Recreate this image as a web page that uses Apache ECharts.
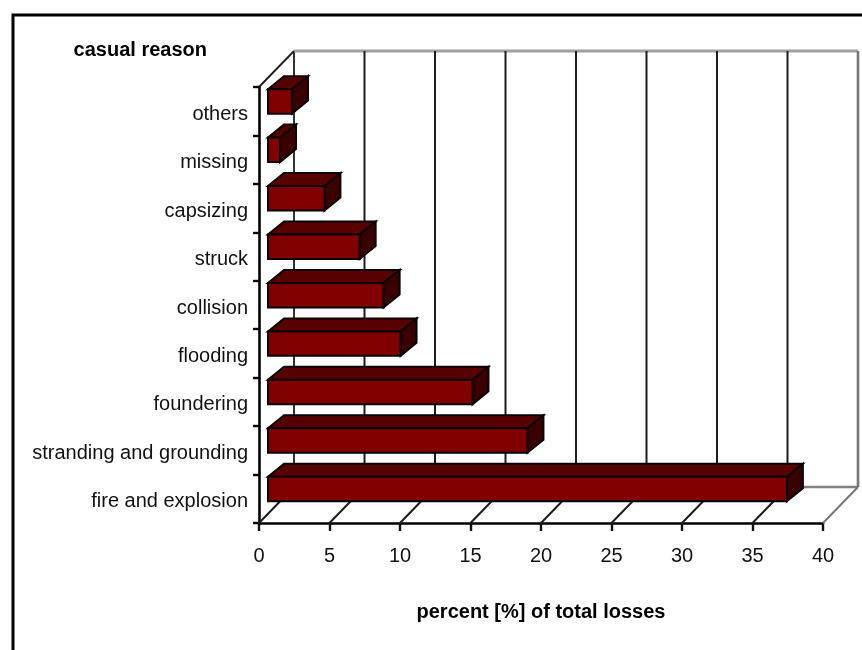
<!DOCTYPE html>
<html>
<head>
<meta charset="utf-8">
<style>
html,body{margin:0;padding:0;background:#fff;}
#chart{width:862px;height:650px;filter:blur(0.7px);}
</style>
<script src="https://cdn.jsdelivr.net/npm/echarts@6/dist/echarts.min.js"></script>
</head>
<body>
<div id="chart"></div>
<script>
var categories = ['others','missing','capsizing','struck','collision','flooding','foundering','stranding and grounding','fire and explosion'];
var percentValues = [1.7,0.85,4.0,6.5,8.2,9.4,14.5,18.4,36.8];
var axisTicks = [0,5,10,15,20,25,30,35,40];
var yAxisTitle = 'casual reason';
var xAxisTitle = 'percent [%] of total losses';

var WALL_DX = 35, WALL_DY = 36;      // depth of the 3D box, px
var BAR_INSET = 9, BAR_DX = 16, BAR_DY = 13;  // position and depth of bars, px
var TEXT_FONT = '"Liberation Sans Narrow","Liberation Sans",Arial,sans-serif';

var chart = echarts.init(document.getElementById('chart'));

function line(x1,y1,x2,y2,color,w){
  return {type:'line',shape:{x1:x1,y1:y1,x2:x2,y2:y2},style:{stroke:color,lineWidth:w,fill:null}};
}
function poly(points,fill){
  return {type:'polygon',shape:{points:points},style:{fill:fill,stroke:'#0a0000',lineWidth:2}};
}

function renderWall(params, api){
  var cs = params.coordSys, v = api.value(0), x = api.coord([v,0])[0];
  var top = cs.y, bottom = cs.y + cs.height;
  var isLast = v === axisTicks[axisTicks.length-1];
  var wallColor = (v === 0) ? '#333' : (isLast ? '#777' : '#1c1c1c');
  var floorColor = isLast ? '#777' : '#1c1c1c';
  var kids = [
    line(x+WALL_DX,top-WALL_DY,x+WALL_DX,bottom-WALL_DY,wallColor,isLast?2.6:2),
    line(x,bottom,x+WALL_DX,bottom-WALL_DY,floorColor,2)
  ];
  if(v === 0){
    var right = cs.x + cs.width;
    kids.push(line(x+WALL_DX,top-WALL_DY,right+WALL_DX,top-WALL_DY,'#a0a0a0',3));
    kids.push(line(x+WALL_DX,bottom-WALL_DY,right+WALL_DX,bottom-WALL_DY,'#808080',2.4));
    kids.push(line(x,top,x+WALL_DX,top-WALL_DY,'#1c1c1c',1.8));
  }
  return {type:'group',children:kids};
}

function renderBar(params, api){
  var i = api.value(1);
  var origin = api.coord([0,i]), end = api.coord([api.value(0),i]);
  var band = api.size([0,1])[1];
  var x0 = origin[0]+BAR_INSET, x1 = end[0]+BAR_INSET;
  var yt = origin[1]-band*0.455, yb = origin[1]+band*0.05;
  return {type:'group',children:[
    poly([[x0,yt],[x0+BAR_DX,yt-BAR_DY],[x1+BAR_DX,yt-BAR_DY],[x1,yt]],'#580000'),
    poly([[x1,yt],[x1+BAR_DX,yt-BAR_DY],[x1+BAR_DX,yb-BAR_DY],[x1,yb]],'#3a0000'),
    poly([[x0,yt],[x1,yt],[x1,yb],[x0,yb]],'#800000')
  ]};
}

chart.setOption({
  animation:false,
  backgroundColor:'#fff',
  grid:{left:259,top:87,width:564,height:436,containLabel:false},
  xAxis:{
    type:'value',min:0,max:40,interval:5,
    name:xAxisTitle,nameLocation:'middle',nameGap:79,
    nameTextStyle:{fontFamily:TEXT_FONT,fontSize:20,fontWeight:'bold',color:'#000'},
    axisLine:{show:true,lineStyle:{color:'#000',width:2.6}},
    axisTick:{show:true,length:8,lineStyle:{color:'#111',width:2.4}},
    axisLabel:{fontFamily:TEXT_FONT,fontSize:20,color:'#111',margin:23},
    splitLine:{show:false}
  },
  yAxis:{
    type:'category',inverse:true,data:categories,
    name:yAxisTitle,nameLocation:'start',nameGap:27,
    nameTextStyle:{fontFamily:TEXT_FONT,fontSize:20,fontWeight:'bold',color:'#000',align:'right',padding:[0,52,0,0]},
    axisLine:{show:true,lineStyle:{color:'#000',width:2.6}},
    axisTick:{show:true,length:6,lineStyle:{color:'#000',width:2.4}},
    axisLabel:{fontFamily:TEXT_FONT,fontSize:20,color:'#111',margin:11,verticalAlign:'top',lineHeight:6},
    splitLine:{show:false}
  },
  graphic:[
    {type:'polyline',silent:true,shape:{points:[[13,650],[13,15],[862,15]]},style:{stroke:'#000',lineWidth:3,fill:null}}
  ],
  series:[
    {type:'custom',name:'walls',clip:false,z:1,renderItem:renderWall,
     data:axisTicks.map(function(t){return [t,0];}),encode:{x:0,y:1}},
    {type:'custom',name:'percent of total losses',clip:false,z:3,renderItem:renderBar,
     data:percentValues.map(function(v,i){return [v,i];}),encode:{x:0,y:1}}
  ]
});
</script>
</body>
</html>
